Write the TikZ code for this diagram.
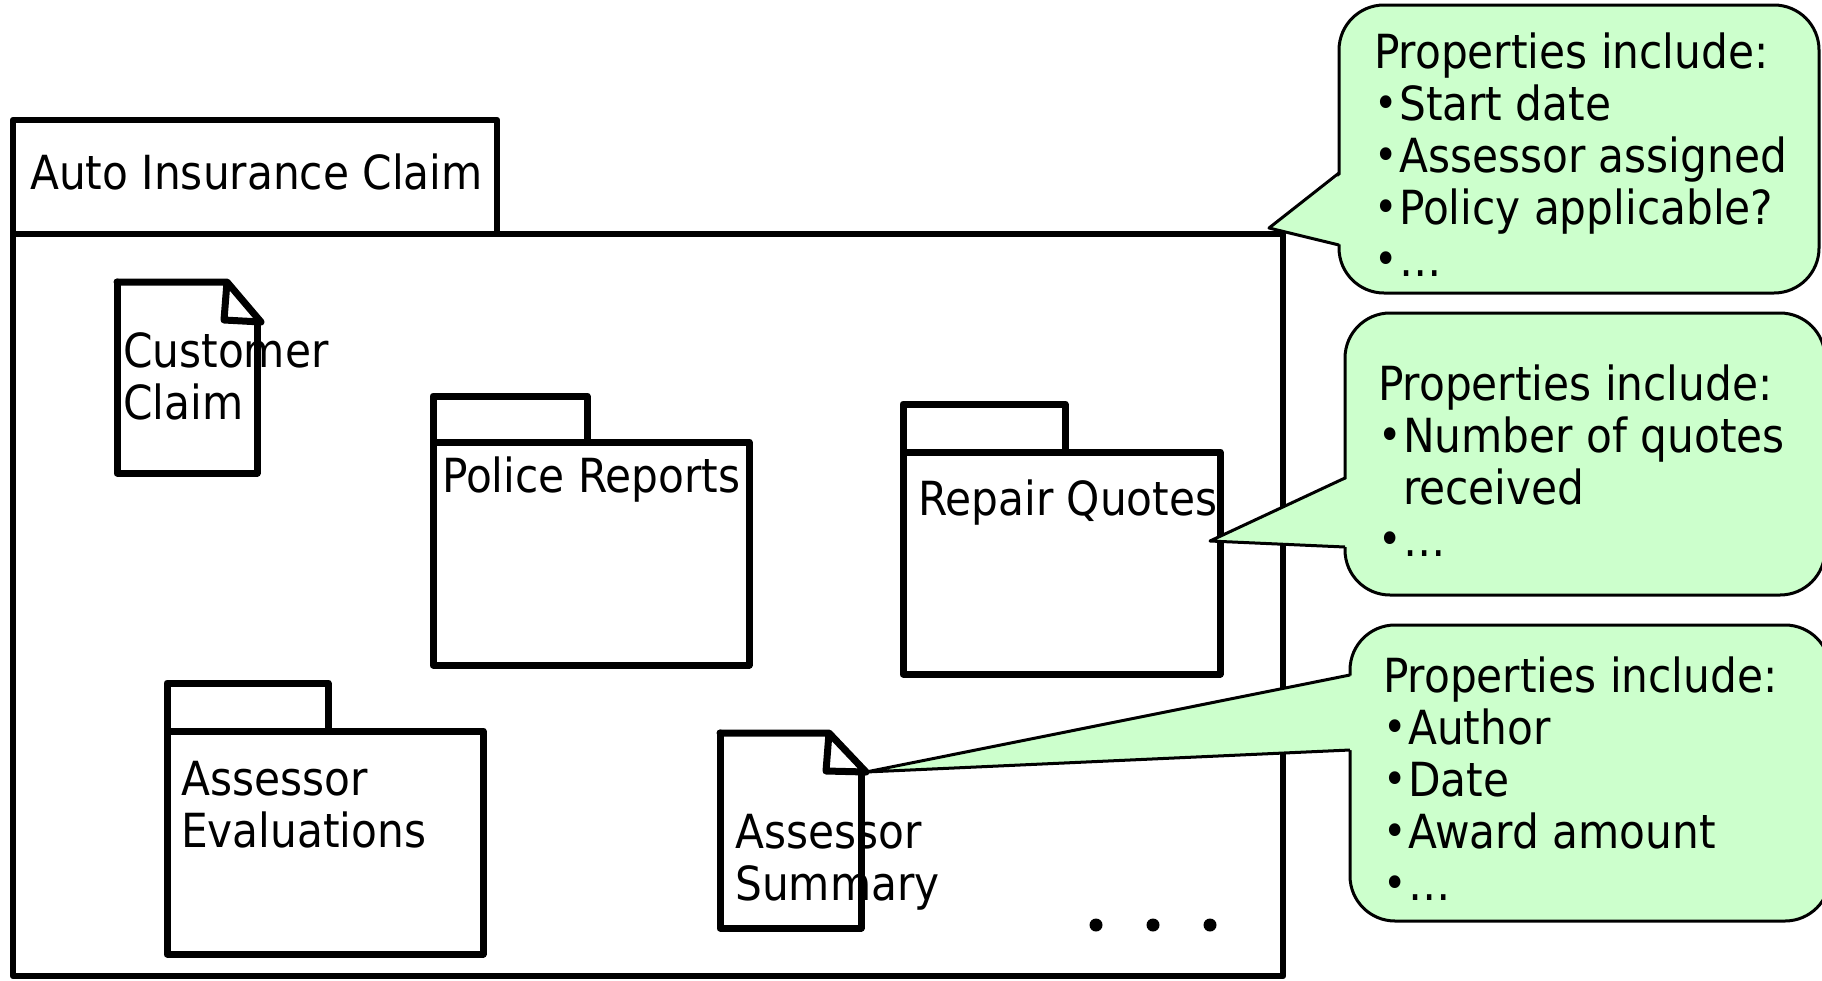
\documentclass[tikz,border=0pt]{standalone}
\usepackage{fontspec}
\setmainfont{DejaVu Sans Condensed}
\usetikzlibrary{calc}
\definecolor{notegreen}{HTML}{CCFFCC}
% small list bullet followed by a fixed indent
\newcommand{\listdot}{\makebox[24pt][c]{\fontsize{44}{44}\selectfont\raisebox{2pt}{•}}\hspace{1pt}}
\newcommand{\listindent}{\hspace{25pt}}
\begin{document}
\begin{tikzpicture}[x=1pt,y=-1pt,
  corners/.style n args={4}{at={({(#1+#3)/2},{(#2+#4)/2})},
    minimum width={#3-#1}, minimum height={#4-#2}, inner sep=0pt, outer sep=0pt},
  pkgline/.style={draw, line width=7pt, line join=round},
  docline/.style={draw, line width=7pt, line join=round, line cap=round},
  framebox/.style={draw, line width=6.5pt, line join=round},
  label/.style={anchor=base west, inner sep=0pt, font=\fontsize{47}{52}\selectfont},
  bubble/.style={draw, line width=3pt, fill=notegreen, rounded corners=45pt},
  bubblefill/.style={fill=notegreen},
  bubbleline/.style={line width=3pt, line join=round},
  dotmark/.style={circle, fill=black, inner sep=0pt, minimum size=13pt}
]
\useasboundingbox (0,0) rectangle (1822,980);

% outer package: Auto Insurance Claim
\node[framebox, corners={13}{120}{497}{234}] (frametab) {};
\node[framebox, corners={13}{234}{1283}{976}] (frame) {};
\node[label] (frametitle) at (30,189) {Auto Insurance Claim};

% document: Customer Claim
\node[corners={117}{282}{257}{473}] (cc) {};
\draw[docline] (cc.north west) -- ++(110,0) coordinate (ccfold)
  -- ++(34,40) coordinate (cctip) -- ++(-37,-2) -- (ccfold);
\draw[docline] ([yshift=-40pt]cc.north east) -- (cc.south east)
  -- (cc.south west) -- (cc.north west);
\node[label] (cctext) at (123,367)
  {\begin{tabular}[t]{@{}l@{}}Customer\\Claim\end{tabular}};

% package: Police Reports
\node[pkgline, corners={433}{396}{587}{442}] (poltab) {};
\node[pkgline, corners={433}{442}{749}{665}] (polbody) {};
\node[label] (poltext) at (442,492) {Police Reports};

% package: Repair Quotes
\node[pkgline, corners={903}{404}{1065}{452}] (reptab) {};
\node[pkgline, corners={903}{452}{1220}{674}] (repbody) {};
\node[label] (reptext) at (918,515) {Repair Quotes};

% package: Assessor Evaluations
\node[pkgline, corners={167}{683}{328}{731}] (evtab) {};
\node[pkgline, corners={167}{731}{483}{954}] (evbody) {};
\node[label] (evtext) at (181,795)
  {\begin{tabular}[t]{@{}l@{}}Assessor\\Evaluations\end{tabular}};

% document: Assessor Summary
\node[corners={720}{733}{861}{928}] (as) {};
\draw[docline] (as.north west) -- ++(109,0) coordinate (asfold)
  -- ++(37,39) coordinate (astip) -- ++(-40,-1) -- (asfold);
\draw[docline] ([yshift=-39pt]as.north east) -- (as.south east)
  -- (as.south west) -- (as.north west);
\node[label] (astext) at (735,848)
  {\begin{tabular}[t]{@{}l@{}}Assessor\\Summary\end{tabular}};

% more contents
\node[dotmark] (d1) at (1096,925) {};
\node[dotmark] (d2) at (1153,925) {};
\node[dotmark] (d3) at (1210,925) {};

% note on the claim
\node[bubble, corners={1339}{5}{1819}{293}] (b1) {};
\coordinate (b1tip) at ($(frame.north east)+(-14,-6)$);
\fill[bubblefill] (b1tip) -- ($(b1.north west)+(4,168)$) -- ($(b1.north west)+(4,240)$) -- cycle;
\draw[bubbleline] ($(b1.north west)+(0,168)$) -- (b1tip) -- ($(b1.north west)+(0,240)$);
\node[label] (b1text) at (1374,68)
  {\begin{tabular}[t]{@{}l@{}}Properties include:\\\listdot Start date\\\listdot Assessor assigned\\\listdot Policy applicable?\\\listdot …\end{tabular}};

% note on the repair quotes
\node[bubble, corners={1345}{313}{1825}{595}] (b2) {};
\coordinate (b2tip) at ($(repbody.north east)+(-10,89)$);
\fill[bubblefill] (b2tip) -- ($(b2.north west)+(4,165)$) -- ($(b2.north west)+(4,234)$) -- cycle;
\draw[bubbleline] ($(b2.north west)+(0,165)$) -- (b2tip) -- ($(b2.north west)+(0,234)$);
\node[label] (b2text) at (1378,400)
  {\begin{tabular}[t]{@{}l@{}}Properties include:\\\listdot Number of quotes\\\listindent received\\\listdot …\end{tabular}};

% note on the assessor summary
\node[bubble, corners={1350}{625}{1830}{921}] (b3) {};
\fill[bubblefill] (astip) -- ($(b3.north west)+(4,50)$) -- ($(b3.north west)+(4,125)$) -- cycle;
\draw[bubbleline] ($(b3.north west)+(0,50)$) -- (astip) -- ($(b3.north west)+(0,125)$);
\node[label] (b3text) at (1383,692)
  {\begin{tabular}[t]{@{}l@{}}Properties include:\\\listdot Author\\\listdot Date\\\listdot Award amount\\\listdot …\end{tabular}};
\end{tikzpicture}
\end{document}
